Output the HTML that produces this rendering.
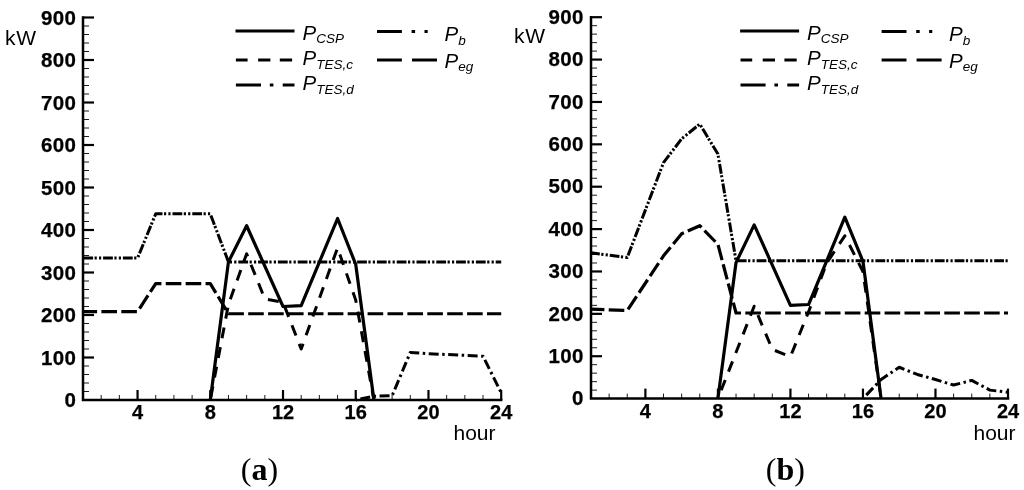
<!DOCTYPE html>
<html><head><meta charset="utf-8"><title>Power profiles</title>
<style>
html,body{margin:0;padding:0;background:#fff;}
body{width:1024px;height:490px;overflow:hidden;}
svg{display:block;filter:blur(0.3px);}
text{font-family:"Liberation Sans",sans-serif;fill:#000;}
.tl{font-size:20px;font-weight:bold;stroke:#000;stroke-width:0.25px;}
.yl{font-size:20.5px;letter-spacing:0.4px;}
.ax{font-size:21px;}
.kw{font-size:21px;letter-spacing:0.8px;}
.lg{font-size:20.5px;font-style:italic;}
.sb{font-size:13.5px;}
.cap{font-family:"Liberation Serif",serif;font-size:32px;}
</style></head>
<body>
<svg width="1024" height="490" viewBox="0 0 1024 490">
<rect width="1024" height="490" fill="#fff"/>
<polyline points="83,258.05 137.55,258.05 155.73,213.85 210.28,213.85 228.46,261.88 501.2,261.88" fill="none" stroke="#000" stroke-width="3" stroke-linejoin="round" stroke-dasharray="9.8 1.5 2.2 2.2 2.2 1.9" stroke-dashoffset="19.52"/>
<polyline points="83,311.6 137.55,311.6 155.73,283.55 210.28,283.55 228.46,313.73 501.2,313.73" fill="none" stroke="#000" stroke-width="3.2" stroke-linejoin="round" stroke-dasharray="15.6 4.3" stroke-dashoffset="1.51"/>
<polyline points="355.74,400 373.92,396.18 392.1,395.75 410.29,352.4 428.47,353.68 446.65,354.52 464.83,355.38 483.02,356.23 501.2,392.77" fill="none" stroke="#000" stroke-width="3" stroke-linejoin="round" stroke-dasharray="10 3.5 2.5 3.5" stroke-dashoffset="14.77"/>
<polyline points="210.28,400 228.46,304.38 246.64,253.8 264.83,298.85 283.01,302.25 301.19,349 337.56,247.85 355.74,300.12 373.92,400" fill="none" stroke="#000" stroke-width="3" stroke-linejoin="round" stroke-dasharray="11 9" stroke-dashoffset="17.17"/>
<polyline points="210.28,400 228.46,261.88 246.64,225.75 283.01,306.5 301.19,305.65 337.56,218.53 355.74,264.43 373.92,400" fill="none" stroke="#000" stroke-width="3.2" stroke-linejoin="round"/>
<polyline points="591,252.82 627.26,257.48 663.52,162.56 681.65,138.82 699.78,123.99 717.91,154.08 736.04,260.87 1008,260.87" fill="none" stroke="#000" stroke-width="3" stroke-linejoin="round" stroke-dasharray="9.8 1.5 2.2 2.2 2.2 1.9" stroke-dashoffset="0.93"/>
<polyline points="591,309.18 627.26,310.45 663.52,255.79 681.65,233.75 699.78,225.7 717.91,244.34 736.04,313 1008,313" fill="none" stroke="#000" stroke-width="3.2" stroke-linejoin="round" stroke-dasharray="15.6 4.3" stroke-dashoffset="2.17"/>
<polyline points="862.96,398.6 881.09,379.53 899.22,367.24 917.35,374.44 935.48,379.53 953.61,385.04 971.74,380.38 989.87,390.12 1008,392.24" fill="none" stroke="#000" stroke-width="3" stroke-linejoin="round" stroke-dasharray="10 3.5 2.5 3.5" stroke-dashoffset="14.74"/>
<polyline points="717.91,398.6 754.17,306.22 772.3,349.44 790.43,356.65 808.57,311.73 826.7,262.99 844.83,235.87 862.96,271.47 881.09,398.6" fill="none" stroke="#000" stroke-width="3" stroke-linejoin="round" stroke-dasharray="11 9" stroke-dashoffset="11.02"/>
<polyline points="717.91,398.6 736.04,262.57 754.17,224.85 790.43,305.37 808.57,304.52 844.83,217.22 862.96,261.3 881.09,398.6" fill="none" stroke="#000" stroke-width="3.2" stroke-linejoin="round"/>
<line x1="83" y1="391.5" x2="89" y2="391.5" stroke="#000" stroke-width="0.9"/>
<line x1="83" y1="383" x2="89" y2="383" stroke="#000" stroke-width="0.9"/>
<line x1="83" y1="374.5" x2="89" y2="374.5" stroke="#000" stroke-width="0.9"/>
<line x1="83" y1="366" x2="89" y2="366" stroke="#000" stroke-width="0.9"/>
<line x1="83" y1="357.5" x2="94" y2="357.5" stroke="#000" stroke-width="2.2"/>
<line x1="83" y1="349" x2="89" y2="349" stroke="#000" stroke-width="0.9"/>
<line x1="83" y1="340.5" x2="89" y2="340.5" stroke="#000" stroke-width="0.9"/>
<line x1="83" y1="332" x2="89" y2="332" stroke="#000" stroke-width="0.9"/>
<line x1="83" y1="323.5" x2="89" y2="323.5" stroke="#000" stroke-width="0.9"/>
<line x1="83" y1="315" x2="94" y2="315" stroke="#000" stroke-width="2.2"/>
<line x1="83" y1="306.5" x2="89" y2="306.5" stroke="#000" stroke-width="0.9"/>
<line x1="83" y1="298" x2="89" y2="298" stroke="#000" stroke-width="0.9"/>
<line x1="83" y1="289.5" x2="89" y2="289.5" stroke="#000" stroke-width="0.9"/>
<line x1="83" y1="281" x2="89" y2="281" stroke="#000" stroke-width="0.9"/>
<line x1="83" y1="272.5" x2="94" y2="272.5" stroke="#000" stroke-width="2.2"/>
<line x1="83" y1="264" x2="89" y2="264" stroke="#000" stroke-width="0.9"/>
<line x1="83" y1="255.5" x2="89" y2="255.5" stroke="#000" stroke-width="0.9"/>
<line x1="83" y1="247" x2="89" y2="247" stroke="#000" stroke-width="0.9"/>
<line x1="83" y1="238.5" x2="89" y2="238.5" stroke="#000" stroke-width="0.9"/>
<line x1="83" y1="230" x2="94" y2="230" stroke="#000" stroke-width="2.2"/>
<line x1="83" y1="221.5" x2="89" y2="221.5" stroke="#000" stroke-width="0.9"/>
<line x1="83" y1="213" x2="89" y2="213" stroke="#000" stroke-width="0.9"/>
<line x1="83" y1="204.5" x2="89" y2="204.5" stroke="#000" stroke-width="0.9"/>
<line x1="83" y1="196" x2="89" y2="196" stroke="#000" stroke-width="0.9"/>
<line x1="83" y1="187.5" x2="94" y2="187.5" stroke="#000" stroke-width="2.2"/>
<line x1="83" y1="179" x2="89" y2="179" stroke="#000" stroke-width="0.9"/>
<line x1="83" y1="170.5" x2="89" y2="170.5" stroke="#000" stroke-width="0.9"/>
<line x1="83" y1="162" x2="89" y2="162" stroke="#000" stroke-width="0.9"/>
<line x1="83" y1="153.5" x2="89" y2="153.5" stroke="#000" stroke-width="0.9"/>
<line x1="83" y1="145" x2="94" y2="145" stroke="#000" stroke-width="2.2"/>
<line x1="83" y1="136.5" x2="89" y2="136.5" stroke="#000" stroke-width="0.9"/>
<line x1="83" y1="128" x2="89" y2="128" stroke="#000" stroke-width="0.9"/>
<line x1="83" y1="119.5" x2="89" y2="119.5" stroke="#000" stroke-width="0.9"/>
<line x1="83" y1="111" x2="89" y2="111" stroke="#000" stroke-width="0.9"/>
<line x1="83" y1="102.5" x2="94" y2="102.5" stroke="#000" stroke-width="2.2"/>
<line x1="83" y1="94" x2="89" y2="94" stroke="#000" stroke-width="0.9"/>
<line x1="83" y1="85.5" x2="89" y2="85.5" stroke="#000" stroke-width="0.9"/>
<line x1="83" y1="77" x2="89" y2="77" stroke="#000" stroke-width="0.9"/>
<line x1="83" y1="68.5" x2="89" y2="68.5" stroke="#000" stroke-width="0.9"/>
<line x1="83" y1="60" x2="94" y2="60" stroke="#000" stroke-width="2.2"/>
<line x1="83" y1="51.5" x2="89" y2="51.5" stroke="#000" stroke-width="0.9"/>
<line x1="83" y1="43" x2="89" y2="43" stroke="#000" stroke-width="0.9"/>
<line x1="83" y1="34.5" x2="89" y2="34.5" stroke="#000" stroke-width="0.9"/>
<line x1="83" y1="26" x2="89" y2="26" stroke="#000" stroke-width="0.9"/>
<line x1="83" y1="17.5" x2="94" y2="17.5" stroke="#000" stroke-width="2.2"/>
<line x1="101.18" y1="400" x2="101.18" y2="395" stroke="#000" stroke-width="0.9"/>
<line x1="119.37" y1="400" x2="119.37" y2="395" stroke="#000" stroke-width="0.9"/>
<line x1="137.55" y1="400" x2="137.55" y2="390" stroke="#000" stroke-width="2.2"/>
<line x1="155.73" y1="400" x2="155.73" y2="395" stroke="#000" stroke-width="0.9"/>
<line x1="173.91" y1="400" x2="173.91" y2="395" stroke="#000" stroke-width="0.9"/>
<line x1="192.1" y1="400" x2="192.1" y2="395" stroke="#000" stroke-width="0.9"/>
<line x1="210.28" y1="400" x2="210.28" y2="390" stroke="#000" stroke-width="2.2"/>
<line x1="228.46" y1="400" x2="228.46" y2="395" stroke="#000" stroke-width="0.9"/>
<line x1="246.64" y1="400" x2="246.64" y2="395" stroke="#000" stroke-width="0.9"/>
<line x1="264.83" y1="400" x2="264.83" y2="395" stroke="#000" stroke-width="0.9"/>
<line x1="283.01" y1="400" x2="283.01" y2="390" stroke="#000" stroke-width="2.2"/>
<line x1="301.19" y1="400" x2="301.19" y2="395" stroke="#000" stroke-width="0.9"/>
<line x1="319.37" y1="400" x2="319.37" y2="395" stroke="#000" stroke-width="0.9"/>
<line x1="337.56" y1="400" x2="337.56" y2="395" stroke="#000" stroke-width="0.9"/>
<line x1="355.74" y1="400" x2="355.74" y2="390" stroke="#000" stroke-width="2.2"/>
<line x1="373.92" y1="400" x2="373.92" y2="395" stroke="#000" stroke-width="0.9"/>
<line x1="392.1" y1="400" x2="392.1" y2="395" stroke="#000" stroke-width="0.9"/>
<line x1="410.29" y1="400" x2="410.29" y2="395" stroke="#000" stroke-width="0.9"/>
<line x1="428.47" y1="400" x2="428.47" y2="390" stroke="#000" stroke-width="2.2"/>
<line x1="446.65" y1="400" x2="446.65" y2="395" stroke="#000" stroke-width="0.9"/>
<line x1="464.83" y1="400" x2="464.83" y2="395" stroke="#000" stroke-width="0.9"/>
<line x1="483.02" y1="400" x2="483.02" y2="395" stroke="#000" stroke-width="0.9"/>
<line x1="501.2" y1="400" x2="501.2" y2="390" stroke="#000" stroke-width="2.2"/>
<path d="M83,17.5 V400 H501.2" fill="none" stroke="#000" stroke-width="2.5" stroke-linecap="square"/>
<text x="76.4" y="407.4" class="tl yl" text-anchor="end">0</text>
<text x="76.4" y="364.9" class="tl yl" text-anchor="end">100</text>
<text x="76.4" y="322.4" class="tl yl" text-anchor="end">200</text>
<text x="76.4" y="279.9" class="tl yl" text-anchor="end">300</text>
<text x="76.4" y="237.4" class="tl yl" text-anchor="end">400</text>
<text x="76.4" y="194.9" class="tl yl" text-anchor="end">500</text>
<text x="76.4" y="152.4" class="tl yl" text-anchor="end">600</text>
<text x="76.4" y="109.9" class="tl yl" text-anchor="end">700</text>
<text x="76.4" y="67.4" class="tl yl" text-anchor="end">800</text>
<text x="76.4" y="24.9" class="tl yl" text-anchor="end">900</text>
<text x="137.55" y="419" class="tl" text-anchor="middle">4</text>
<text x="210.28" y="419" class="tl" text-anchor="middle">8</text>
<text x="283.01" y="419" class="tl" text-anchor="middle">12</text>
<text x="355.74" y="419" class="tl" text-anchor="middle">16</text>
<text x="428.47" y="419" class="tl" text-anchor="middle">20</text>
<text x="501.2" y="419" class="tl" text-anchor="middle">24</text>
<text x="495.5" y="440" class="ax" text-anchor="end">hour</text>
<text x="5" y="45" class="kw">kW</text>
<line x1="591" y1="390.12" x2="597" y2="390.12" stroke="#000" stroke-width="0.9"/>
<line x1="591" y1="381.65" x2="597" y2="381.65" stroke="#000" stroke-width="0.9"/>
<line x1="591" y1="373.17" x2="597" y2="373.17" stroke="#000" stroke-width="0.9"/>
<line x1="591" y1="364.7" x2="597" y2="364.7" stroke="#000" stroke-width="0.9"/>
<line x1="591" y1="356.22" x2="602" y2="356.22" stroke="#000" stroke-width="2.2"/>
<line x1="591" y1="347.75" x2="597" y2="347.75" stroke="#000" stroke-width="0.9"/>
<line x1="591" y1="339.27" x2="597" y2="339.27" stroke="#000" stroke-width="0.9"/>
<line x1="591" y1="330.8" x2="597" y2="330.8" stroke="#000" stroke-width="0.9"/>
<line x1="591" y1="322.32" x2="597" y2="322.32" stroke="#000" stroke-width="0.9"/>
<line x1="591" y1="313.84" x2="602" y2="313.84" stroke="#000" stroke-width="2.2"/>
<line x1="591" y1="305.37" x2="597" y2="305.37" stroke="#000" stroke-width="0.9"/>
<line x1="591" y1="296.89" x2="597" y2="296.89" stroke="#000" stroke-width="0.9"/>
<line x1="591" y1="288.42" x2="597" y2="288.42" stroke="#000" stroke-width="0.9"/>
<line x1="591" y1="279.94" x2="597" y2="279.94" stroke="#000" stroke-width="0.9"/>
<line x1="591" y1="271.47" x2="602" y2="271.47" stroke="#000" stroke-width="2.2"/>
<line x1="591" y1="262.99" x2="597" y2="262.99" stroke="#000" stroke-width="0.9"/>
<line x1="591" y1="254.52" x2="597" y2="254.52" stroke="#000" stroke-width="0.9"/>
<line x1="591" y1="246.04" x2="597" y2="246.04" stroke="#000" stroke-width="0.9"/>
<line x1="591" y1="237.56" x2="597" y2="237.56" stroke="#000" stroke-width="0.9"/>
<line x1="591" y1="229.09" x2="602" y2="229.09" stroke="#000" stroke-width="2.2"/>
<line x1="591" y1="220.61" x2="597" y2="220.61" stroke="#000" stroke-width="0.9"/>
<line x1="591" y1="212.14" x2="597" y2="212.14" stroke="#000" stroke-width="0.9"/>
<line x1="591" y1="203.66" x2="597" y2="203.66" stroke="#000" stroke-width="0.9"/>
<line x1="591" y1="195.19" x2="597" y2="195.19" stroke="#000" stroke-width="0.9"/>
<line x1="591" y1="186.71" x2="602" y2="186.71" stroke="#000" stroke-width="2.2"/>
<line x1="591" y1="178.24" x2="597" y2="178.24" stroke="#000" stroke-width="0.9"/>
<line x1="591" y1="169.76" x2="597" y2="169.76" stroke="#000" stroke-width="0.9"/>
<line x1="591" y1="161.28" x2="597" y2="161.28" stroke="#000" stroke-width="0.9"/>
<line x1="591" y1="152.81" x2="597" y2="152.81" stroke="#000" stroke-width="0.9"/>
<line x1="591" y1="144.33" x2="602" y2="144.33" stroke="#000" stroke-width="2.2"/>
<line x1="591" y1="135.86" x2="597" y2="135.86" stroke="#000" stroke-width="0.9"/>
<line x1="591" y1="127.38" x2="597" y2="127.38" stroke="#000" stroke-width="0.9"/>
<line x1="591" y1="118.91" x2="597" y2="118.91" stroke="#000" stroke-width="0.9"/>
<line x1="591" y1="110.43" x2="597" y2="110.43" stroke="#000" stroke-width="0.9"/>
<line x1="591" y1="101.96" x2="602" y2="101.96" stroke="#000" stroke-width="2.2"/>
<line x1="591" y1="93.48" x2="597" y2="93.48" stroke="#000" stroke-width="0.9"/>
<line x1="591" y1="85" x2="597" y2="85" stroke="#000" stroke-width="0.9"/>
<line x1="591" y1="76.53" x2="597" y2="76.53" stroke="#000" stroke-width="0.9"/>
<line x1="591" y1="68.05" x2="597" y2="68.05" stroke="#000" stroke-width="0.9"/>
<line x1="591" y1="59.58" x2="602" y2="59.58" stroke="#000" stroke-width="2.2"/>
<line x1="591" y1="51.1" x2="597" y2="51.1" stroke="#000" stroke-width="0.9"/>
<line x1="591" y1="42.63" x2="597" y2="42.63" stroke="#000" stroke-width="0.9"/>
<line x1="591" y1="34.15" x2="597" y2="34.15" stroke="#000" stroke-width="0.9"/>
<line x1="591" y1="25.68" x2="597" y2="25.68" stroke="#000" stroke-width="0.9"/>
<line x1="591" y1="17.2" x2="602" y2="17.2" stroke="#000" stroke-width="2.2"/>
<line x1="609.13" y1="398.6" x2="609.13" y2="393.6" stroke="#000" stroke-width="0.9"/>
<line x1="627.26" y1="398.6" x2="627.26" y2="393.6" stroke="#000" stroke-width="0.9"/>
<line x1="645.39" y1="398.6" x2="645.39" y2="388.6" stroke="#000" stroke-width="2.2"/>
<line x1="663.52" y1="398.6" x2="663.52" y2="393.6" stroke="#000" stroke-width="0.9"/>
<line x1="681.65" y1="398.6" x2="681.65" y2="393.6" stroke="#000" stroke-width="0.9"/>
<line x1="699.78" y1="398.6" x2="699.78" y2="393.6" stroke="#000" stroke-width="0.9"/>
<line x1="717.91" y1="398.6" x2="717.91" y2="388.6" stroke="#000" stroke-width="2.2"/>
<line x1="736.04" y1="398.6" x2="736.04" y2="393.6" stroke="#000" stroke-width="0.9"/>
<line x1="754.17" y1="398.6" x2="754.17" y2="393.6" stroke="#000" stroke-width="0.9"/>
<line x1="772.3" y1="398.6" x2="772.3" y2="393.6" stroke="#000" stroke-width="0.9"/>
<line x1="790.43" y1="398.6" x2="790.43" y2="388.6" stroke="#000" stroke-width="2.2"/>
<line x1="808.57" y1="398.6" x2="808.57" y2="393.6" stroke="#000" stroke-width="0.9"/>
<line x1="826.7" y1="398.6" x2="826.7" y2="393.6" stroke="#000" stroke-width="0.9"/>
<line x1="844.83" y1="398.6" x2="844.83" y2="393.6" stroke="#000" stroke-width="0.9"/>
<line x1="862.96" y1="398.6" x2="862.96" y2="388.6" stroke="#000" stroke-width="2.2"/>
<line x1="881.09" y1="398.6" x2="881.09" y2="393.6" stroke="#000" stroke-width="0.9"/>
<line x1="899.22" y1="398.6" x2="899.22" y2="393.6" stroke="#000" stroke-width="0.9"/>
<line x1="917.35" y1="398.6" x2="917.35" y2="393.6" stroke="#000" stroke-width="0.9"/>
<line x1="935.48" y1="398.6" x2="935.48" y2="388.6" stroke="#000" stroke-width="2.2"/>
<line x1="953.61" y1="398.6" x2="953.61" y2="393.6" stroke="#000" stroke-width="0.9"/>
<line x1="971.74" y1="398.6" x2="971.74" y2="393.6" stroke="#000" stroke-width="0.9"/>
<line x1="989.87" y1="398.6" x2="989.87" y2="393.6" stroke="#000" stroke-width="0.9"/>
<line x1="1008" y1="398.6" x2="1008" y2="388.6" stroke="#000" stroke-width="2.2"/>
<path d="M591,17.2 V398.6 H1008" fill="none" stroke="#000" stroke-width="2.5" stroke-linecap="square"/>
<text x="583.9" y="405.3" class="tl yl" text-anchor="end">0</text>
<text x="583.9" y="362.92" class="tl yl" text-anchor="end">100</text>
<text x="583.9" y="320.54" class="tl yl" text-anchor="end">200</text>
<text x="583.9" y="278.17" class="tl yl" text-anchor="end">300</text>
<text x="583.9" y="235.79" class="tl yl" text-anchor="end">400</text>
<text x="583.9" y="193.41" class="tl yl" text-anchor="end">500</text>
<text x="583.9" y="151.03" class="tl yl" text-anchor="end">600</text>
<text x="583.9" y="108.66" class="tl yl" text-anchor="end">700</text>
<text x="583.9" y="66.28" class="tl yl" text-anchor="end">800</text>
<text x="583.9" y="23.9" class="tl yl" text-anchor="end">900</text>
<text x="645.39" y="418" class="tl" text-anchor="middle">4</text>
<text x="717.91" y="418" class="tl" text-anchor="middle">8</text>
<text x="790.43" y="418" class="tl" text-anchor="middle">12</text>
<text x="862.96" y="418" class="tl" text-anchor="middle">16</text>
<text x="935.48" y="418" class="tl" text-anchor="middle">20</text>
<text x="1008" y="418" class="tl" text-anchor="middle">24</text>
<text x="1015.5" y="440" class="ax" text-anchor="end">hour</text>
<text x="514" y="42.6" class="kw">kW</text>
<line x1="235.5" y1="31" x2="294.5" y2="31" stroke="#000" stroke-width="3"/>
<line x1="235.9" y1="60" x2="247.6" y2="60" stroke="#000" stroke-width="3"/>
<line x1="258.1" y1="60" x2="270.4" y2="60" stroke="#000" stroke-width="3"/>
<line x1="279.8" y1="60" x2="292.1" y2="60" stroke="#000" stroke-width="3"/>
<line x1="235.9" y1="85" x2="261" y2="85" stroke="#000" stroke-width="3"/>
<line x1="269.8" y1="85" x2="273.4" y2="85" stroke="#000" stroke-width="3"/>
<line x1="282.7" y1="85" x2="294.5" y2="85" stroke="#000" stroke-width="3"/>
<line x1="377" y1="31.5" x2="401.9" y2="31.5" stroke="#000" stroke-width="3"/>
<line x1="411.6" y1="31.5" x2="415.1" y2="31.5" stroke="#000" stroke-width="3"/>
<line x1="424.5" y1="31.5" x2="427.7" y2="31.5" stroke="#000" stroke-width="3"/>
<line x1="377" y1="60" x2="401.9" y2="60" stroke="#000" stroke-width="3"/>
<line x1="412" y1="60" x2="437" y2="60" stroke="#000" stroke-width="3"/>
<text x="302.5" y="39.7" class="lg">P<tspan class="sb" dy="3.3">CSP</tspan></text>
<text x="302.5" y="65.3" class="lg">P<tspan class="sb" dy="3.3">TES,c</tspan></text>
<text x="302.5" y="90.3" class="lg">P<tspan class="sb" dy="3.3">TES,d</tspan></text>
<text x="444.5" y="40.9" class="lg">P<tspan class="sb" dy="3.8">b</tspan></text>
<text x="444.5" y="67.6" class="lg">P<tspan class="sb" dy="3.6">eg</tspan></text>
<line x1="740.1" y1="31" x2="799.1" y2="31" stroke="#000" stroke-width="3"/>
<line x1="740.5" y1="60" x2="752.2" y2="60" stroke="#000" stroke-width="3"/>
<line x1="762.7" y1="60" x2="775" y2="60" stroke="#000" stroke-width="3"/>
<line x1="784.4" y1="60" x2="796.7" y2="60" stroke="#000" stroke-width="3"/>
<line x1="740.5" y1="85" x2="765.6" y2="85" stroke="#000" stroke-width="3"/>
<line x1="774.4" y1="85" x2="778" y2="85" stroke="#000" stroke-width="3"/>
<line x1="787.3" y1="85" x2="799.1" y2="85" stroke="#000" stroke-width="3"/>
<line x1="881.6" y1="31.5" x2="906.5" y2="31.5" stroke="#000" stroke-width="3"/>
<line x1="916.2" y1="31.5" x2="919.7" y2="31.5" stroke="#000" stroke-width="3"/>
<line x1="929.1" y1="31.5" x2="932.3" y2="31.5" stroke="#000" stroke-width="3"/>
<line x1="881.6" y1="60" x2="906.5" y2="60" stroke="#000" stroke-width="3"/>
<line x1="916.6" y1="60" x2="941.6" y2="60" stroke="#000" stroke-width="3"/>
<text x="807.1" y="39.7" class="lg">P<tspan class="sb" dy="3.3">CSP</tspan></text>
<text x="807.1" y="65.3" class="lg">P<tspan class="sb" dy="3.3">TES,c</tspan></text>
<text x="807.1" y="90.3" class="lg">P<tspan class="sb" dy="3.3">TES,d</tspan></text>
<text x="949.1" y="40.9" class="lg">P<tspan class="sb" dy="3.8">b</tspan></text>
<text x="949.1" y="67.6" class="lg">P<tspan class="sb" dy="3.6">eg</tspan></text>
<text x="259.5" y="480" class="cap" text-anchor="middle">(<tspan font-weight="bold">a</tspan>)</text>
<text x="785.4" y="480" class="cap" text-anchor="middle">(<tspan font-weight="bold">b</tspan>)</text>
</svg>
</body></html>
